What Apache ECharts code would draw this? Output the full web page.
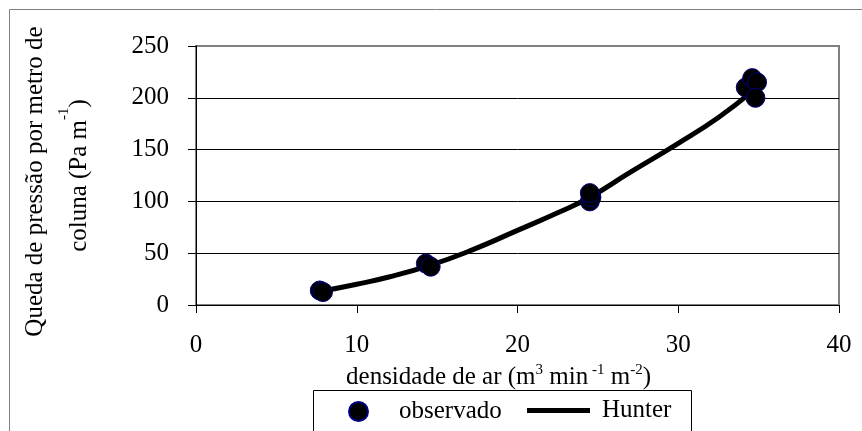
<!DOCTYPE html>
<html>
<head>
<meta charset="utf-8">
<script src="https://cdn.jsdelivr.net/npm/echarts@6/dist/echarts.min.js"></script>
<style>html,body{margin:0;padding:0;background:#fff}#c{width:862px;height:431px}</style>
</head>
<body>
<div id="c"></div>
<script>
// observed points
const obsX = [7.7, 7.9, 14.3, 14.6, 24.5, 24.6, 24.5, 34.2, 34.6, 34.9, 34.8];
const obsY = [14, 12.5, 40, 37, 100, 104, 108, 210, 219, 215, 200];
// Hunter curve
const hunterX = [7.7, 10, 12, 14.5, 17, 20, 22.5, 24.5, 27, 30, 32.5, 34.5];
const hunterY = [13, 20, 27, 38, 52, 72, 89, 104, 128, 156, 181, 205];
const xTicks = [0, 10, 20, 30, 40];
const yTicks = [0, 50, 100, 150, 200, 250];

const FF = "'Liberation Serif','Times New Roman',serif";
const obsData = obsX.map((x, i) => [x, obsY[i]]);
const hunterData = hunterX.map((x, i) => [x, hunterY[i]]);

const chart = echarts.init(document.getElementById('c'), null, {renderer: 'canvas'});
chart.setOption({
  animation: false,
  backgroundColor: '#fff',
  grid: {left: 196, top: 46, right: 23, bottom: 126, show: true, borderColor: '#808080', borderWidth: 2, backgroundColor: 'transparent'},
  xAxis: {
    type: 'value', min: xTicks[0], max: xTicks[xTicks.length - 1], interval: 10,
    axisLine: {onZero: false, lineStyle: {color: '#000', width: 1}},
    axisTick: {show: true, length: 8, lineStyle: {color: '#000'}},
    splitLine: {show: false},
    axisLabel: {color: '#000', fontFamily: FF, fontSize: 25, margin: 28},
    name: '{n|densidade de ar (m}{s|3}{n| min}{s| -1}{n| m}{s|-2}{n|)}',
    nameLocation: 'middle', nameGap: 44,
    nameTextStyle: {
      padding: [0, 38, 0, 0],
      rich: {
        n: {fontFamily: FF, fontSize: 25, color: '#000', lineHeight: 30},
        s: {fontFamily: FF, fontSize: 15, color: '#000', verticalAlign: 'top', lineHeight: 15}
      }
    }
  },
  yAxis: {
    type: 'value', min: yTicks[0], max: yTicks[yTicks.length - 1], interval: 50,
    axisLine: {show: true, onZero: false, lineStyle: {color: '#000', width: 1}},
    axisTick: {show: true, length: 8, lineStyle: {color: '#000'}},
    splitLine: {show: true, showMinLine: false, showMaxLine: false, lineStyle: {color: '#000', width: 1}},
    axisLabel: {color: '#000', fontFamily: FF, fontSize: 25, margin: 27},
    name: '{a|Queda de pressão por metro de}\n{n|coluna (Pa m}{s|-1}{n|)}',
    nameLocation: 'middle', nameRotate: 90, nameGap: 95,
    nameTextStyle: {
      align: 'center',
      rich: {
        a: {fontFamily: FF, fontSize: 25, color: '#000', lineHeight: 44, padding: [0, 12, 0, 0]},
        n: {fontFamily: FF, fontSize: 25, color: '#000', lineHeight: 44},
        s: {fontFamily: FF, fontSize: 15, color: '#000', verticalAlign: 'top', lineHeight: 15}
      }
    }
  },
  legend: [
    {
      data: ['observado'], selectedMode: false, left: 348, top: 399, padding: 0,
      icon: 'circle', itemWidth: 19, itemHeight: 19,
      textStyle: {fontFamily: FF, fontSize: 25, color: '#000', padding: [0, 0, 0, 26]}
    },
    {
      data: ['Hunter'], selectedMode: false, left: 527, top: 398, padding: 0,
      icon: 'rect', itemWidth: 63, itemHeight: 5,
      textStyle: {fontFamily: FF, fontSize: 25, color: '#000', padding: [0, 0, 0, 7]}
    }
  ],
  graphic: [
    {type: 'rect', silent: true, z: 100, shape: {x: 9.5, y: 9.5, width: 900, height: 500}, style: {fill: 'none', stroke: '#808080', lineWidth: 1}},
    {type: 'rect', silent: true, z: 100, shape: {x: 313.5, y: 390.5, width: 378, height: 100}, style: {fill: 'none', stroke: '#000', lineWidth: 1}}
  ],
  series: [
    {
      name: 'Hunter', type: 'line', data: hunterData, smooth: true, showSymbol: false,
      color: '#000', lineStyle: {color: '#000', width: 5}, z: 2
    },
    {
      name: 'observado', type: 'scatter', data: obsData, symbol: 'circle', symbolSize: 19,
      itemStyle: {color: '#000', borderColor: '#000080', borderWidth: 1, opacity: 1}, z: 3
    }
  ]
});
</script>
</body>
</html>
